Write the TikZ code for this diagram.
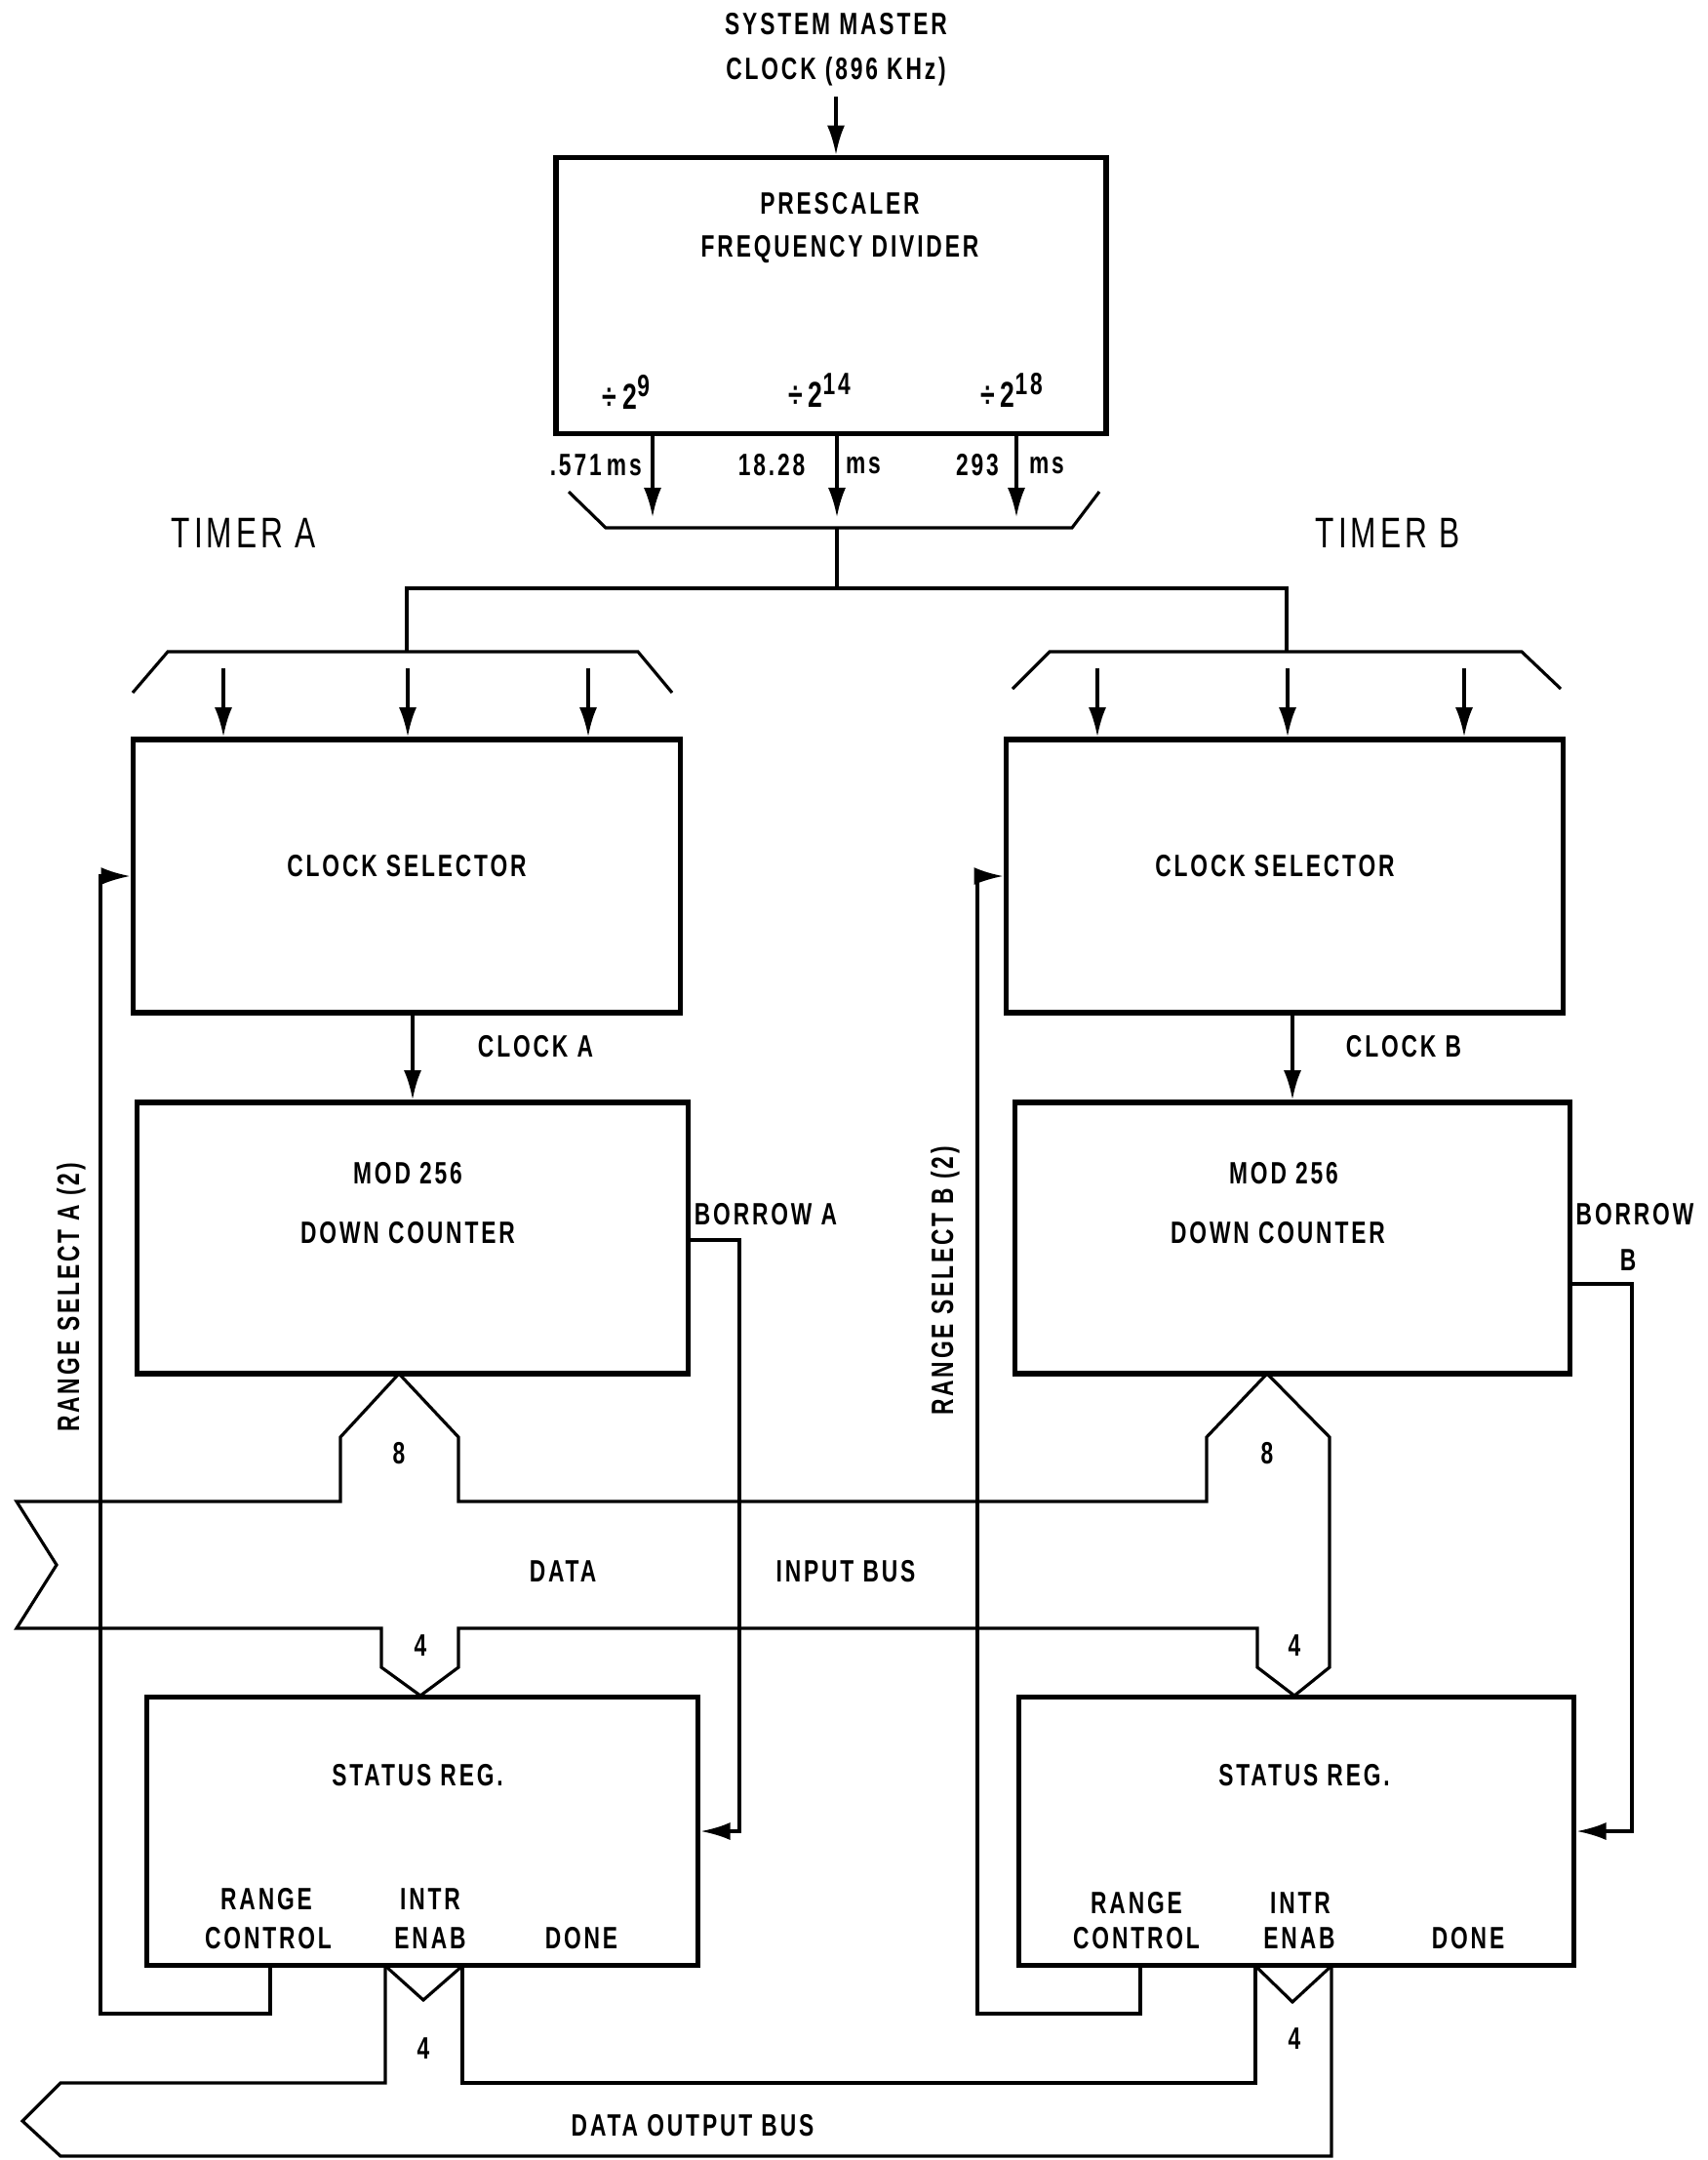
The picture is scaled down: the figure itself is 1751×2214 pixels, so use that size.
\documentclass[tikz,border=0pt]{standalone}
\usepackage{fontspec}
\setmainfont{Liberation Sans}[FakeStretch=0.72,LetterSpace=9]
\usetikzlibrary{arrows.meta,calc}

\begin{document}
\begin{tikzpicture}[x=0.01cm,y=-0.01cm,
  box/.style={draw,line width=1.6pt,inner sep=0pt},
  wire/.style={line width=0.9pt},
  arr/.style={wire,-{Latex[length=3mm,width=1.8mm]}},
  lbl/.style={font=\bfseries\fontsize{9}{10}\selectfont,inner sep=1pt},
  big/.style={font=\fontsize{12.5}{14}\selectfont,inner sep=1pt}]
\useasboundingbox (0,0) rectangle (1751,2214);

% blocks
\node[box,minimum width=5.64cm,minimum height=2.83cm] (pre) at (852,303) {};
\node[box,minimum width=5.61cm,minimum height=2.80cm] (selA) at (417,898) {};
\node[box,minimum width=5.71cm,minimum height=2.80cm] (selB) at (1317,898) {};
\node[box,minimum width=5.65cm,minimum height=2.78cm] (cntA) at (423,1269) {};
\node[box,minimum width=5.69cm,minimum height=2.78cm] (cntB) at (1325,1269) {};
\node[box,minimum width=5.65cm,minimum height=2.75cm] (stA) at (433,1877) {};
\node[box,minimum width=5.69cm,minimum height=2.75cm] (stB) at (1329,1877) {};

% texts
\node[lbl] (mst) at (857,25) {SYSTEM MASTER};
\node[lbl] (mck) at (857,73) {CLOCK (896 KHz)};
\node[lbl] (preT) at (861,209) {PRESCALER};
\node[lbl] (preD) at (861,256) {FREQUENCY DIVIDER};
\node[lbl,font=\bfseries\fontsize{10.5}{11}\selectfont] (d9) at (642,402)
  {÷\,2\raisebox{0.7ex}{\fontsize{9}{9}\selectfont 9}};
\node[lbl,font=\bfseries\fontsize{10.5}{11}\selectfont] (d14) at (840,400)
  {÷\,2\raisebox{0.7ex}{\fontsize{9}{9}\selectfont 14}};
\node[lbl,font=\bfseries\fontsize{10.5}{11}\selectfont] (d18) at (1037,400)
  {÷\,2\raisebox{0.7ex}{\fontsize{9}{9}\selectfont 18}};
\node[lbl,anchor=east] (t1) at (662,477) {.571\,ms};
\node[lbl] (t2a) at (791,477) {18.28};
\node[lbl] (t2b) at (885,477) {ms};
\node[lbl] (t3a) at (1002,477) {293};
\node[lbl] (t3b) at (1073,477) {ms};
\node[big] (tmA) at (250,546) {TIMER A};
\node[big] (tmB) at (1423,546) {TIMER B};
\node[lbl] (selAt) at (417,888) {CLOCK SELECTOR};
\node[lbl] (selBt) at (1307,888) {CLOCK SELECTOR};
\node[lbl] (ckA) at (549,1073) {CLOCK A};
\node[lbl] (ckB) at (1439,1073) {CLOCK B};
\node[lbl] (cntAt) at (418,1203) {MOD 256};
\node[lbl] (cntAd) at (418,1264) {DOWN COUNTER};
\node[lbl] (cntBt) at (1316,1203) {MOD 256};
\node[lbl] (cntBd) at (1310,1264) {DOWN COUNTER};
\node[lbl] (brA) at (785,1245) {BORROW A};
\node[lbl] (brB) at (1676,1245) {BORROW};
\node[lbl] (brB2) at (1669,1292) {B};
\node[lbl,rotate=90] (rsA) at (73,1330) {RANGE SELECT A (2)};
\node[lbl,rotate=90] (rsB) at (969,1313) {RANGE SELECT B (2)};
\node[lbl] (n8A) at (409,1490) {8};
\node[lbl] (n8B) at (1299,1490) {8};
\node[lbl] (dib1) at (577,1611) {DATA};
\node[lbl] (dib2) at (867,1611) {INPUT BUS};
\node[lbl] (n4A) at (431,1687) {4};
\node[lbl] (n4B) at (1327,1687) {4};
\node[lbl] (stAt) at (428,1820) {STATUS REG.};
\node[lbl] (stBt) at (1337,1820) {STATUS REG.};
\node[lbl] (rgA) at (273,1947) {RANGE};
\node[lbl] (ctA) at (275,1987) {CONTROL};
\node[lbl] (inA) at (441,1947) {INTR};
\node[lbl] (enA) at (441,1987) {ENAB};
\node[lbl] (dnA) at (596,1987) {DONE};
\node[lbl] (rgB) at (1165,1951) {RANGE};
\node[lbl] (ctB) at (1165,1987) {CONTROL};
\node[lbl] (inB) at (1333,1951) {INTR};
\node[lbl] (enB) at (1332,1987) {ENAB};
\node[lbl] (dnB) at (1505,1987) {DONE};
\node[lbl] (o4A) at (434,2100) {4};
\node[lbl] (o4B) at (1327,2090) {4};
\node[lbl] (dob) at (710,2179) {DATA OUTPUT BUS};

% master clock in
\coordinate (mclk) at (857,99);
\draw[arr] (mclk) -- (mclk |- pre.north);

% prescaler taps and clock bus
\foreach \x [count=\i] in {669,858,1042} {
  \coordinate (tap\i) at (\x,530);
  \draw[arr] (pre.south -| tap\i) -- (tap\i);
}
\draw[wire] (583,504) -- (621,541) -- (1099,541) -- (1127,504);
\draw[wire] (858,541) -- (858,603);
\draw[wire] (417,668) -- (417,603) -- (1319,603) -- (1319,668);
\draw[wire] (136,710) -- (172,668) -- (654,668) -- (689,710);
\draw[wire] (1038,706) -- (1076,668) -- (1560,668) -- (1600,706);
\foreach \x in {229,418,603} {
  \coordinate (inA) at (\x,685);
  \draw[arr] (inA) -- (inA |- selA.north);
}
\foreach \x in {1125,1320,1501} {
  \coordinate (inB) at (\x,685);
  \draw[arr] (inB) -- (inB |- selB.north);
}

% clock to counters
\draw[arr] (cntA.north |- selA.south) -- (cntA.north);
\draw[arr] (cntB.north |- selB.south) -- (cntB.north);

% borrow lines
\coordinate (bA) at (758,1271);
\coordinate (bB) at (1673,1316);
\draw[arr] (cntA.east |- bA) -- (bA) |- (stA.east);
\draw[arr] (cntB.east |- bB) -- (bB) |- (stB.east);

% range select lines
\coordinate (rcA) at (277,2064);
\coordinate (rcB) at (1169,2064);
\draw[arr] (stA.south -| rcA) -- (rcA) -- (103,2064) |- (selA.west);
\draw[arr] (stB.south -| rcB) -- (rcB) -- (1002,2064) |- (selB.west);

% data input bus
\draw[wire] (17,1539) -- (349,1539) -- (349,1473) -- (409,1408) -- (470,1473)
  -- (470,1539) -- (1237,1539) -- (1237,1473) -- (1299,1408) -- (1363,1473)
  -- (1363,1709) -- (1327,1738) -- (1289,1709) -- (1289,1669) -- (470,1669)
  -- (470,1709) -- (431,1738) -- (391,1709) -- (391,1669) -- (17,1669)
  -- (58,1604) -- cycle;

% data output bus
\draw[wire] (395,2015) -- (395,2135) -- (62,2135) -- (23,2174) -- (62,2210)
  -- (1365,2210) -- (1365,2015);
\draw[wire] (474,2015) -- (474,2135) -- (1287,2135) -- (1287,2015);
\draw[wire] (395,2015) -- (434,2050) -- (474,2015);
\draw[wire] (1287,2015) -- (1325,2052) -- (1365,2015);
\end{tikzpicture}
\end{document}
